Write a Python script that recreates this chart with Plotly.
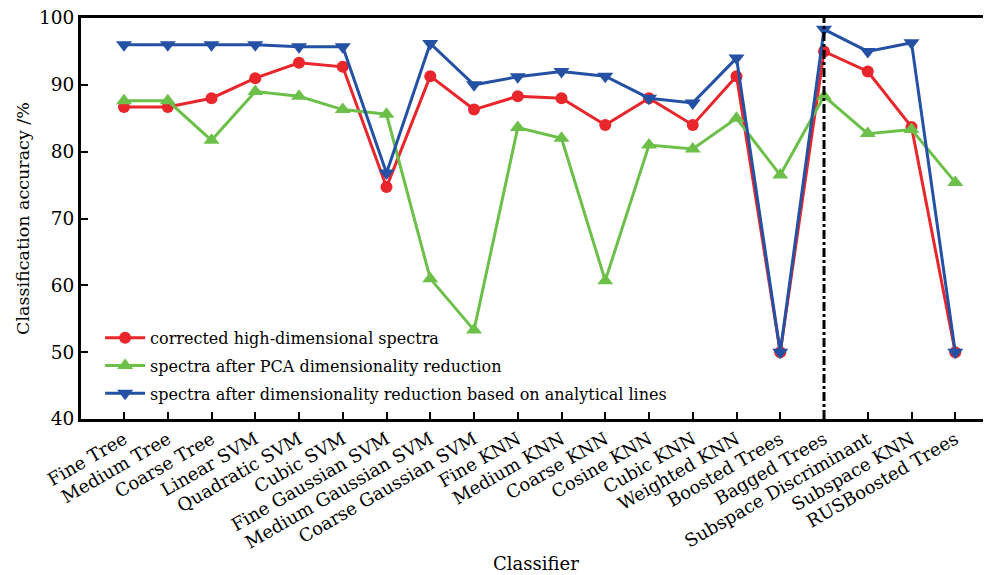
import plotly.graph_objects as go

categories = ["Fine Tree", "Medium Tree", "Coarse Tree", "Linear SVM", "Quadratic SVM",
              "Cubic SVM", "Fine Gaussian SVM", "Medium Gaussian SVM", "Coarse Gaussian SVM",
              "Fine KNN", "Medium KNN", "Coarse KNN", "Cosine KNN", "Cubic KNN",
              "Weighted KNN", "Boosted Trees", "Bagged Trees", "Subspace Discriminant",
              "Subspace KNN", "RUSBoosted Trees"]

corrected_high_dim = [86.7, 86.7, 88.0, 91.0, 93.3, 92.7, 74.7, 91.3, 86.3, 88.3,
                      88.0, 84.0, 88.0, 84.0, 91.3, 50.0, 95.0, 92.0, 83.7, 50.0]
pca_reduction = [87.6, 87.6, 81.7, 89.0, 88.3, 86.3, 85.6, 61.0, 53.3, 83.6,
                 82.0, 60.7, 81.0, 80.4, 85.0, 76.5, 88.3, 82.7, 83.3, 75.4]
analytical_lines = [96.0, 96.0, 96.0, 96.0, 95.7, 95.7, 76.8, 96.2, 90.0, 91.2,
                    92.0, 91.3, 88.0, 87.3, 94.0, 50.0, 98.3, 95.0, 96.3, 50.0]

series_names = ["corrected high-dimensional spectra",
                "spectra after PCA dimensionality reduction",
                "spectra after dimensionality reduction based on analytical lines"]
y_ticks = [40, 50, 60, 70, 80, 90, 100]
marked_category = "Bagged Trees"
x_title = "Classifier"
y_title = "Classification accuracy /%"

colors = ["#E8262B", "#6CC04A", "#2451A4"]
symbols = ["circle", "triangle-up", "triangle-down"]
sizes = [12, 14, 14]
font_family = "DejaVu Serif"

fig = go.Figure()
for i, (name, vals, c, s, sz) in enumerate(zip(series_names,
                                [corrected_high_dim, pca_reduction, analytical_lines],
                                colors, symbols, sizes)):
    fig.add_trace(go.Scatter(
        x=categories, y=vals, name=name, mode="lines+markers",
        legendgroup=f"g{i}",
        line=dict(color=c, width=3),
        marker=dict(symbol=s, size=sz, color=c),
    ))

fig.add_shape(type="line", xref="x", yref="y domain",
              x0=categories.index(marked_category), x1=categories.index(marked_category),
              y0=0, y1=1, line=dict(color="black", width=3, dash="dashdot"))

fig.add_annotation(text=x_title, xref="paper", yref="paper", x=0.5, y=-0.36,
                   xanchor="center", yanchor="middle", showarrow=False,
                   font=dict(size=18, family=font_family, color="black"))

fig.update_layout(
    width=983, height=567,
    margin=dict(l=73, r=0, t=10, b=156),
    paper_bgcolor="white", plot_bgcolor="white",
    font=dict(family=font_family, size=16, color="black"),
    showlegend=True,
    legend=dict(x=0.021, y=0.245, xanchor="left", yanchor="top",
                bgcolor="rgba(0,0,0,0)", font=dict(size=16, family=font_family),
                itemwidth=40, tracegroupgap=4),
)
fig.update_xaxes(
    type="category", range=[-0.983, 19.817], automargin=False,
    showline=True, linecolor="black", linewidth=3, mirror=True,
    ticks="inside", ticklen=7, tickwidth=2, tickcolor="black",
    tickangle=-30, tickfont=dict(size=18, family=font_family),
    showgrid=False, zeroline=False,
)
fig.update_yaxes(
    range=[40, 100], tickvals=y_ticks, automargin=False,
    ticklabeloverflow="allow",
    showline=True, linecolor="black", linewidth=3,
    ticks="inside", ticklen=7, tickwidth=2, tickcolor="black",
    tickfont=dict(size=18.5, family=font_family),
    showgrid=False, zeroline=False,
    title=dict(text=y_title, font=dict(size=17.5, family=font_family), standoff=5),
)

fig.write_html("out.html")
